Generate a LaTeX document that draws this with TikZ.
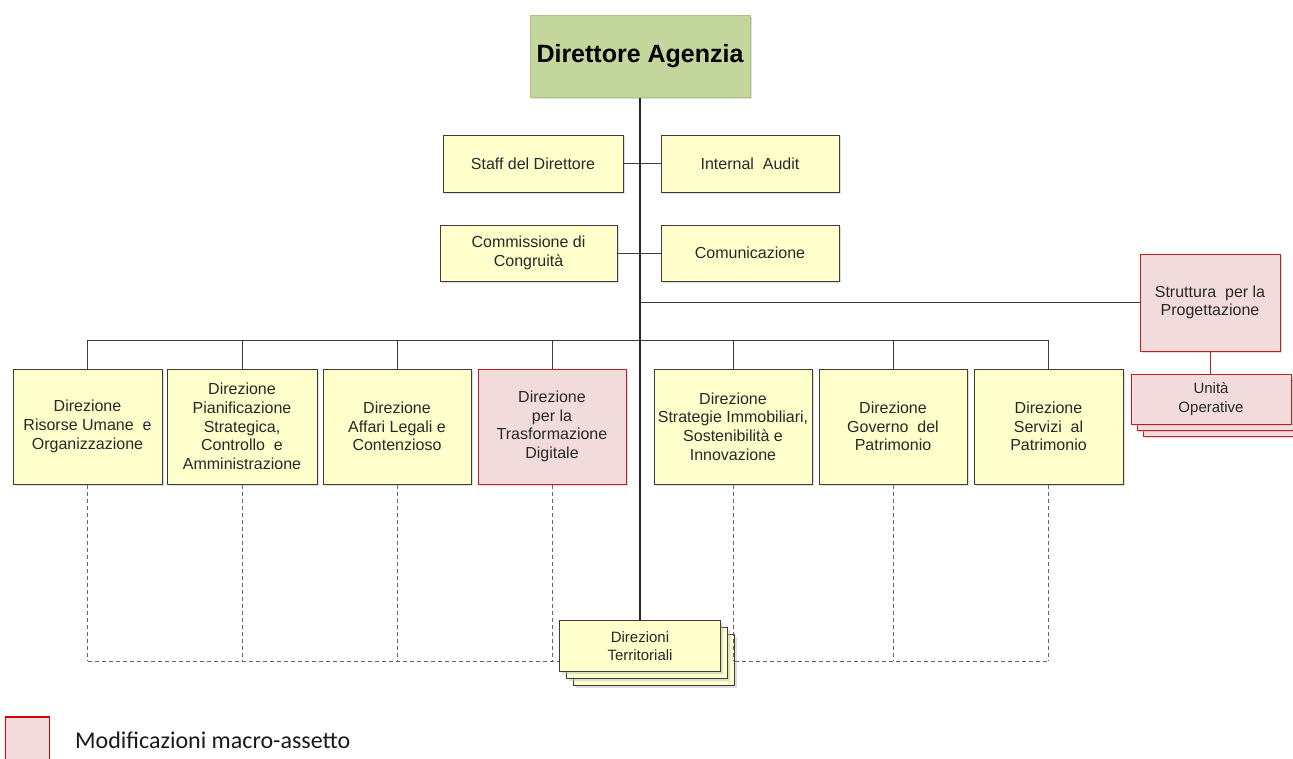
\documentclass[tikz,border=0pt]{standalone}
\usepackage{fontspec}
\setmainfont{Liberation Sans}
\newfontfamily\legfont{Carlito}
\usetikzlibrary{shadows}
\definecolor{yel}{RGB}{255,255,204}
\definecolor{pinkf}{RGB}{242,220,219}
\definecolor{redb}{RGB}{192,30,35}
\definecolor{grn}{RGB}{195,214,155}
\definecolor{grnb}{RGB}{170,195,130}
\definecolor{txt}{RGB}{40,40,40}
\definecolor{lin}{RGB}{60,60,60}
\tikzset{
  x=1pt, y=-1pt,
  base/.style={rectangle, align=center, inner sep=2pt, text=txt,
     font=\fontsize{16}{18.7}\selectfont, line width=1pt},
  ybox/.style={base, draw=lin, fill=yel,
     drop shadow={shadow xshift=2pt, shadow yshift=-2pt, fill=black!25, opacity=0.5}},
  pbox/.style={base, draw=redb, fill=pinkf,
     drop shadow={shadow xshift=2pt, shadow yshift=-2pt, fill=black!25, opacity=0.5}},
  small/.style={font=\fontsize{15}{18.5}\selectfont},
  conn/.style={draw=lin, line width=1pt},
  trunk/.style={draw=black!85, line width=1.5pt},
  dconn/.style={draw=black!60, line width=0.9pt, dash pattern=on 4pt off 3pt},
}
\begin{document}
\begin{tikzpicture}
\clip (0,0) rectangle (1293,758);
\fill[white] (0,0) rectangle (1293,758);

% top
\node[base, draw=grnb, fill=grn, text=black, minimum width=220pt, minimum height=82pt,
  font=\fontsize{25}{29}\selectfont\bfseries,
  drop shadow={shadow xshift=2pt, shadow yshift=-2pt, fill=black!25, opacity=0.5}] (dir) at (640,56) {Direttore Agenzia};

% staff
\node[ybox, minimum width=180pt, minimum height=57pt] (staff) at (533,163.5) {Staff del Direttore};
\node[ybox, minimum width=178pt, minimum height=57pt] (audit) at (750,163.5) {Internal\ \ Audit};
\node[ybox, minimum width=177pt, minimum height=56pt] (comm) at (528.5,253) {Commissione di\\Congruità};
\node[ybox, minimum width=178pt, minimum height=56pt] (comu) at (750,253) {Comunicazione};

% struttura
\node[pbox, minimum width=140pt, minimum height=97pt] (strut) at (1210,302.5) {Struttura\ \ per la\\Progettazione};
\node[pbox, minimum width=160pt, minimum height=50pt, drop shadow={opacity=0}] (uo3) at (1223,411) {};
\node[pbox, minimum width=160pt, minimum height=50pt, drop shadow={opacity=0}] (uo2) at (1217,405) {};
\node[pbox, small, minimum width=160pt, minimum height=50pt, drop shadow={opacity=0}] (uo) at (1211,399) {Unità\\Operative};

% direzioni
\tikzset{dir/.style={minimum height=115pt}}
\node[ybox, dir, minimum width=149pt] (d1) at (87.5,426.5) {Direzione\\Risorse Umane\ \ e\\Organizzazione};
\node[ybox, dir, minimum width=150pt] (d2) at (242,426.5) {Direzione\\Pianificazione\\Strategica,\\Controllo\ \ e\\Amministrazione};
\node[ybox, dir, minimum width=148pt] (d3) at (397,426.5) {Direzione\\Affari Legali e\\Contenzioso};
\node[pbox, dir, minimum width=148pt] (d4) at (552,426.5) {Direzione\\per la\\Trasformazione\\Digitale};
\node[ybox, dir, minimum width=158pt, inner sep=0pt] (d5) at (733,426.5) {Direzione\\Strategie Immobiliari,\\Sostenibilità e\\Innovazione};
\node[ybox, dir, minimum width=148pt] (d6) at (893,426.5) {Direzione\\Governo\ \ del\\Patrimonio};
\node[ybox, dir, minimum width=149pt] (d7) at (1048.5,426.5) {Direzione\\Servizi\ \ al\\Patrimonio};

% direzioni territoriali
\node[ybox, minimum width=161pt, minimum height=51pt] (dt3) at (654,660) {};
\node[ybox, minimum width=161pt, minimum height=51pt] (dt2) at (647,653) {};
\node[ybox, small, minimum width=161pt, minimum height=51pt] (dt) at (640,646) {Direzioni\\Territoriali};

% coordinates
\coordinate (bus) at (0,340);
\coordinate (dl) at (0,661);
\coordinate (sl) at (0,302);

% connectors
\draw[conn] (staff.east) -- (audit.west);
\draw[conn] (comm.east) -- (comu.west);
\draw[conn] (dir.south |- sl) -- (strut.west |- sl);
\draw[draw=redb, line width=1pt] (strut.south) -- (strut.south |- uo.north);
\draw[conn] (d1.north) -- (d1.north |- bus) -- (d7.north |- bus) -- (d7.north);
\foreach \n in {d2,d3,d4,d5,d6} \draw[conn] (\n.north) -- (\n.north |- bus);
\draw[trunk] (dir.south) -- (dt.north);

% dashed
\foreach \n in {d1,d2,d3,d4} \draw[dconn] (\n.south) -- (\n.south |- dl);
\foreach \n in {d5,d6,d7} \draw[dconn] (\n.south) -- (\n.south |- dl);
\draw[dconn] (d1.south |- dl) -- (dt.west |- dl);
\draw[dconn] (dt3.east |- dl) -- (d7.south |- dl);

% legend
\node[draw=red!85!black, fill=pinkf, line width=1.2pt, minimum width=44pt, minimum height=50pt, inner sep=0pt] (leg) at (27.5,742) {};
\node[anchor=west, font=\legfont\fontsize{24}{28}\selectfont, text=black!90, inner sep=0pt] (legt) at (75,740) {Modificazioni macro-assetto};
\end{tikzpicture}
\end{document}
